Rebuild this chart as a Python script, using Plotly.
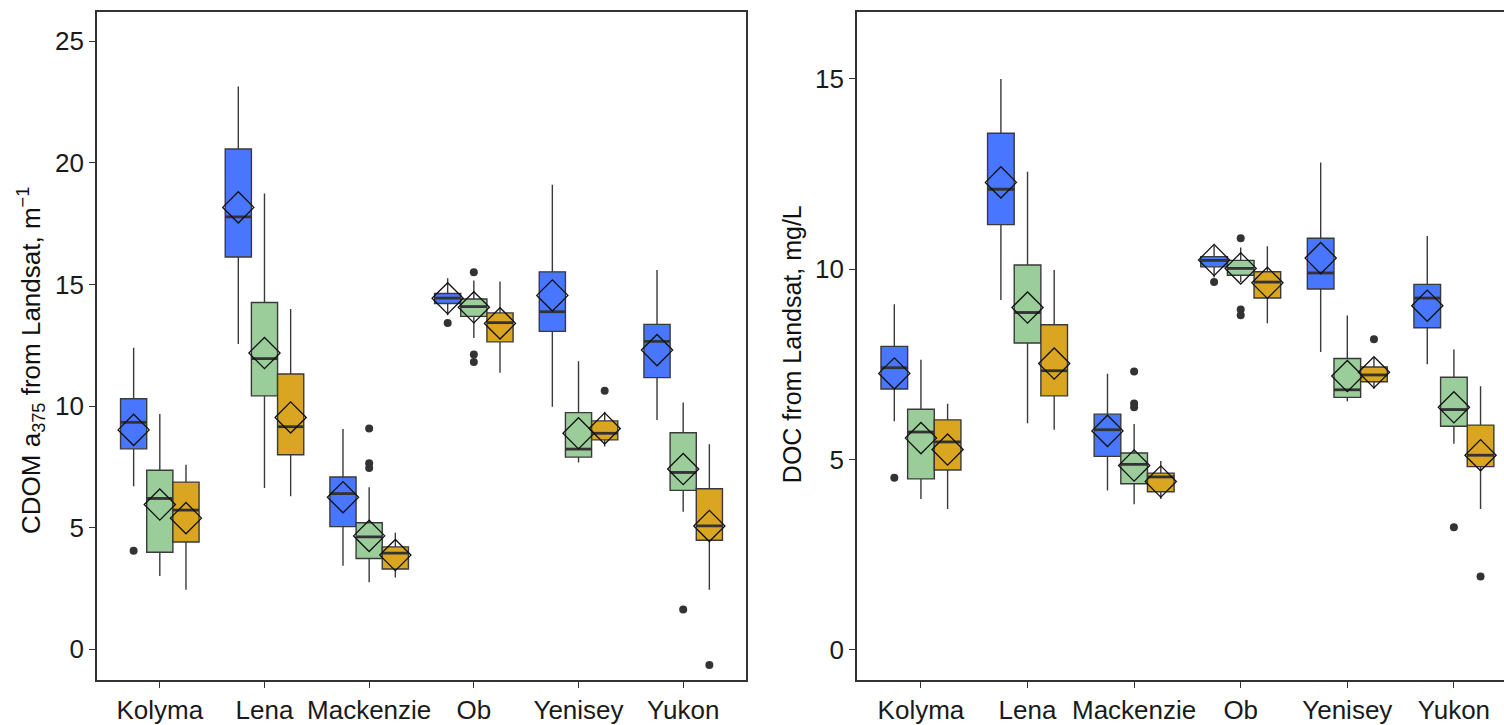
import plotly.graph_objects as go

# ---------------------------------------------------------------------------
# River categories and groups
# ---------------------------------------------------------------------------
rivers = ["Kolyma", "Lena", "Mackenzie", "Ob", "Yenisey", "Yukon"]
seasons = ["spring", "summer", "autumn"]
season_colors = {"spring": "#4876FF", "summer": "#9BCD9B", "autumn": "#DAA520"}

# ---------------------------------------------------------------------------
# CDOM a375 (m^-1) box statistics, one value per river
# ---------------------------------------------------------------------------
cdom_lo_spring = [6.70, 12.55, 3.43, 13.73, 9.97, 9.43]
cdom_q1_spring = [8.24, 16.13, 5.04, 14.22, 13.07, 11.17]
cdom_med_spring = [9.33, 17.78, 6.40, 14.44, 13.88, 12.66]
cdom_q3_spring = [10.30, 20.57, 7.08, 14.63, 15.52, 13.36]
cdom_hi_spring = [12.40, 23.14, 9.06, 15.26, 19.10, 15.60]
cdom_mean_spring = [9.02, 18.17, 6.25, 14.43, 14.55, 12.30]
cdom_out_spring_river = ["Kolyma", "Ob"]
cdom_out_spring_val = [4.05, 13.42]

cdom_lo_summer = [3.01, 6.63, 2.75, 12.80, 7.68, 5.65]
cdom_q1_summer = [3.99, 10.42, 3.73, 13.69, 7.90, 6.53]
cdom_med_summer = [6.20, 11.95, 4.62, 14.09, 8.23, 7.27]
cdom_q3_summer = [7.36, 14.26, 5.20, 14.40, 9.73, 8.90]
cdom_hi_summer = [9.67, 18.74, 6.66, 15.16, 11.84, 10.15]
cdom_mean_summer = [5.95, 12.18, 4.66, 14.06, 8.88, 7.41]
cdom_out_summer_river = ["Mackenzie", "Mackenzie", "Mackenzie", "Ob", "Ob", "Ob", "Yukon"]
cdom_out_summer_val = [9.08, 7.65, 7.45, 15.50, 12.12, 11.81, 1.63]

cdom_lo_autumn = [2.45, 6.29, 2.95, 11.37, 8.34, 2.45]
cdom_q1_autumn = [4.41, 8.00, 3.30, 12.64, 8.61, 4.48]
cdom_med_autumn = [5.72, 9.15, 3.95, 13.43, 8.88, 5.07]
cdom_q3_autumn = [6.87, 11.32, 4.21, 13.83, 9.39, 6.60]
cdom_hi_autumn = [7.59, 13.99, 4.79, 15.12, 9.77, 8.43]
cdom_mean_autumn = [5.39, 9.53, 3.87, 13.40, 9.08, 5.07]
cdom_out_autumn_river = ["Yenisey", "Yukon"]
cdom_out_autumn_val = [10.63, -0.65]

# ---------------------------------------------------------------------------
# DOC (mg/L) box statistics, one value per river
# ---------------------------------------------------------------------------
doc_lo_spring = [6.00, 9.19, 4.18, 9.78, 7.82, 7.50]
doc_q1_spring = [6.85, 11.17, 5.08, 10.06, 9.48, 8.46]
doc_med_spring = [7.41, 12.10, 5.78, 10.23, 9.90, 9.24]
doc_q3_spring = [7.97, 13.57, 6.19, 10.33, 10.81, 9.60]
doc_hi_spring = [9.08, 15.00, 7.25, 10.63, 12.80, 10.87]
doc_mean_spring = [7.26, 12.28, 5.75, 10.24, 10.29, 9.04]
doc_out_spring_river = ["Kolyma", "Ob"]
doc_out_spring_val = [4.52, 9.66]

doc_lo_summer = [3.96, 5.95, 3.82, 9.66, 6.53, 5.41]
doc_q1_summer = [4.49, 8.06, 4.36, 9.84, 6.63, 5.87]
doc_med_summer = [5.72, 8.86, 4.87, 10.02, 6.83, 6.31]
doc_q3_summer = [6.32, 10.11, 5.17, 10.23, 7.65, 7.16]
doc_hi_summer = [7.62, 12.56, 5.93, 10.57, 8.78, 7.89]
doc_mean_summer = [5.56, 8.99, 4.84, 10.02, 7.19, 6.37]
doc_out_summer_river = ["Mackenzie", "Mackenzie", "Mackenzie", "Ob", "Ob", "Ob", "Yukon"]
doc_out_summer_val = [7.31, 6.47, 6.37, 10.81, 8.94, 8.79, 3.22]

doc_lo_autumn = [3.70, 5.78, 3.96, 8.58, 6.86, 3.70]
doc_q1_autumn = [4.72, 6.67, 4.15, 9.24, 7.04, 4.81]
doc_med_autumn = [5.46, 7.33, 4.54, 9.66, 7.22, 5.11]
doc_q3_autumn = [6.04, 8.54, 4.64, 9.93, 7.43, 5.90]
doc_hi_autumn = [6.46, 9.98, 4.96, 10.60, 7.67, 6.92]
doc_mean_autumn = [5.26, 7.52, 4.42, 9.64, 7.29, 5.11]
doc_out_autumn_river = ["Yenisey", "Yukon"]
doc_out_autumn_val = [8.16, 1.92]

# y tick values for both panels
cdom_ticks = [0, 5, 10, 15, 20, 25]
doc_ticks = [0, 5, 10, 15]

# ---------------------------------------------------------------------------
# Figure construction
# ---------------------------------------------------------------------------
BOX_W = 0.25
OFFSETS = {"spring": -BOX_W, "summer": 0.0, "autumn": BOX_W}
EDGE = "#3a3a3a"

panels = {
    "cdom": {
        "xaxis": "x", "yaxis": "y",
        "spring": (cdom_lo_spring, cdom_q1_spring, cdom_med_spring, cdom_q3_spring, cdom_hi_spring,
                   cdom_mean_spring, cdom_out_spring_river, cdom_out_spring_val),
        "summer": (cdom_lo_summer, cdom_q1_summer, cdom_med_summer, cdom_q3_summer, cdom_hi_summer,
                   cdom_mean_summer, cdom_out_summer_river, cdom_out_summer_val),
        "autumn": (cdom_lo_autumn, cdom_q1_autumn, cdom_med_autumn, cdom_q3_autumn, cdom_hi_autumn,
                   cdom_mean_autumn, cdom_out_autumn_river, cdom_out_autumn_val),
    },
    "doc": {
        "xaxis": "x2", "yaxis": "y2",
        "spring": (doc_lo_spring, doc_q1_spring, doc_med_spring, doc_q3_spring, doc_hi_spring,
                   doc_mean_spring, doc_out_spring_river, doc_out_spring_val),
        "summer": (doc_lo_summer, doc_q1_summer, doc_med_summer, doc_q3_summer, doc_hi_summer,
                   doc_mean_summer, doc_out_summer_river, doc_out_summer_val),
        "autumn": (doc_lo_autumn, doc_q1_autumn, doc_med_autumn, doc_q3_autumn, doc_hi_autumn,
                   doc_mean_autumn, doc_out_autumn_river, doc_out_autumn_val),
    },
}

fig = go.Figure()

for key, panel in panels.items():
    xa, ya = panel["xaxis"], panel["yaxis"]
    for s in seasons:
        lo, q1, med, q3, hi, mean, out_r, out_v = panel[s]
        pos = [i + OFFSETS[s] for i in range(len(rivers))]

        # boxes with whiskers
        fig.add_trace(go.Box(
            x=pos, q1=q1, median=med, q3=q3, lowerfence=lo, upperfence=hi,
            orientation="v", width=BOX_W, whiskerwidth=0, boxpoints=False,
            fillcolor=season_colors[s], line=dict(color=EDGE, width=1.4),
            name=s, showlegend=False, xaxis=xa, yaxis=ya,
        ))

        # outliers
        fig.add_trace(go.Scatter(
            x=[rivers.index(r) + OFFSETS[s] for r in out_r], y=out_v,
            mode="markers", marker=dict(color="#333333", size=8),
            showlegend=False, xaxis=xa, yaxis=ya, hoverinfo="y",
        ))

        # thick median bars
        mx, my = [], []
        for p, m in zip(pos, med):
            mx += [p - BOX_W / 2, p + BOX_W / 2, None]
            my += [m, m, None]
        fig.add_trace(go.Scatter(
            x=mx, y=my, mode="lines", line=dict(color="#333333", width=2.8),
            showlegend=False, xaxis=xa, yaxis=ya, hoverinfo="skip",
        ))

        # means as open diamonds
        fig.add_trace(go.Scatter(
            x=pos, y=mean, mode="markers",
            marker=dict(symbol="diamond-open", size=24, color="#111111",
                        line=dict(width=1.3, color="#111111")),
            showlegend=False, xaxis=xa, yaxis=ya, hoverinfo="y",
        ))

W, H = 1504, 725
TOP, BOTTOM = 12, 686
ydom = [(H - BOTTOM) / H, (H - TOP) / H]

FONT = "Liberation Sans, Arial, sans-serif"
tick_font = dict(family=FONT, size=26, color="#1a1a1a")
common_axis = dict(
    showgrid=False, zeroline=False, showline=True, linecolor="#333333", linewidth=1.6,
    ticks="outside", ticklen=6, tickwidth=1.2, tickcolor="#333333", tickfont=tick_font,
)

fig.update_layout(
    width=W, height=H,
    margin=dict(l=0, r=0, t=0, b=0),
    paper_bgcolor="white", plot_bgcolor="white",
    showlegend=False,
    xaxis=dict(domain=[97 / W, 746 / W], range=[-0.6, 5.6], tickvals=list(range(len(rivers))),
               ticktext=rivers, mirror=True, anchor="y", **common_axis),
    yaxis=dict(domain=ydom, range=[-1.28, 26.21], tickvals=cdom_ticks, mirror=True,
               anchor="x", **common_axis),
    xaxis2=dict(domain=[857 / W, 1.0], range=[-0.6, 5.47], tickvals=list(range(len(rivers))),
                ticktext=rivers, mirror=True, anchor="y2", **common_axis),
    yaxis2=dict(domain=ydom, range=[-0.805, 16.76], tickvals=doc_ticks, mirror=False,
                anchor="x2", **common_axis),
    annotations=[
        dict(text="CDOM a<sub>375</sub> from Landsat, m<sup>\u22121</sup>", textangle=-90,
             xref="paper", yref="paper", x=31 / W, y=1 - 364 / H, xanchor="center",
             yanchor="middle", showarrow=False,
             font=dict(family=FONT, size=26, color="#111111")),
        dict(text="DOC from Landsat, mg/L", textangle=-90,
             xref="paper", yref="paper", x=792 / W, y=1 - 347 / H, xanchor="center",
             yanchor="middle", showarrow=False,
             font=dict(family=FONT, size=25, color="#111111")),
    ],
)

fig.write_html("out.html")
